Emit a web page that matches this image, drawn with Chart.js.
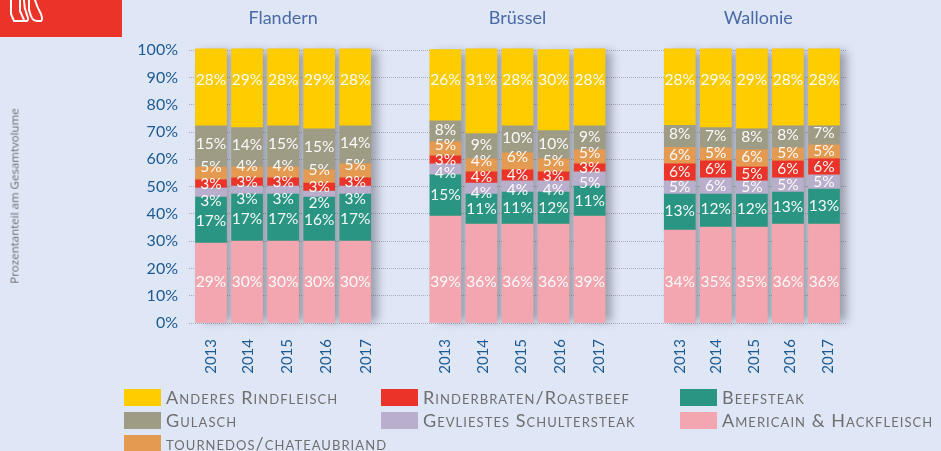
<!DOCTYPE html>
<html>
<head>
<meta charset="utf-8">
<script src="https://cdn.jsdelivr.net/npm/chart.js@4"></script>
<style>
    html, body { margin: 0; padding: 0; width: 941px; height: 451px; overflow: hidden; background: #dfe6f6; }
    #chart { position: absolute; left: 0; top: 0; }
    #logo { position: absolute; left: 0; top: 0; }
    #ytitle { position: absolute; left: 14px; top: 196px; transform: translate(-50%, -50%) rotate(-90deg);
        font: 11.5px "Open Sans"; color: #6b6b6b; white-space: nowrap; }
    .swatch { position: absolute; width: 37px; height: 17px; }
    .legend { position: absolute; font: 18px "Lato"; font-variant: small-caps;
        color: #6f6f6f; white-space: nowrap; letter-spacing: 1.05px; line-height: 17px; }
</style>
</head>
<body>
<canvas id="chart" width="941" height="451"></canvas>
<svg id="logo" width="122" height="37">
    <rect width="122" height="37" fill="#ec3329"/>
    <path d="M11 0V14L14 21H27Q29 20 27 15Q24 8 24 0M20 0V11L24 20M29 0V10L31 16Q33 21 37 21H41Q43 20 41 14Q37 7 35 0"
        fill="none" stroke="#fff" stroke-width="2"/>
</svg>
<div id="ytitle">Prozentanteil am Gesamtvolume</div>
<script>
const regions = ["Flandern", "Brüssel", "Wallonie"];
const years = ["2013", "2014", "2015", "2016", "2017"];

// segment heights, Flandern / Brüssel / Wallonie
const americain = [29.3, 30, 30, 30, 30, 39.2, 36.3, 36.3, 36.3, 39.2, 34.1, 35.2, 35.2, 36.3, 36.3];
const beefsteak = [16.9, 17.3, 17.3, 16.2, 17.3, 15.1, 11, 11.7, 11.7, 11, 13.2, 12.1, 12.1, 11.7, 12.8];
const schulter = [3.3, 2.9, 2.9, 2.2, 2.9, 4, 4, 4.1, 4.1, 5.2, 4.8, 5.9, 4.8, 5.2, 5.2];
const roastbeef = [3, 3, 3, 2.9, 3, 3, 4.1, 4, 3.3, 2.9, 6.2, 6.2, 5.1, 6.2, 5.9];
const tournedos = [4.7, 4, 4, 4.8, 5.1, 5.1, 4.8, 6.3, 4.8, 5.2, 6.1, 4.8, 6.3, 4.8, 5.1];
const gulasch = [15.1, 14.4, 15.1, 15.1, 14, 7.7, 9.2, 9.9, 10.3, 8.8, 8.1, 7.4, 7.7, 8.1, 7];
const anderes = [28.2, 28.9, 28.2, 29.3, 28.2, 26.1, 31.1, 28.2, 29.7, 28.2, 28, 28.9, 29.3, 28.2, 28.2];

// printed percentages
const americainText = [29, 30, 30, 30, 30, 39, 36, 36, 36, 39, 34, 35, 35, 36, 36];
const beefsteakText = [17, 17, 17, 16, 17, 15, 11, 11, 12, 11, 13, 12, 12, 13, 13];
const schulterText = [3, 3, 3, 2, 3, 4, 4, 4, 4, 5, 5, 6, 5, 5, 5];
const roastbeefText = [3, 3, 3, 3, 3, 3, 4, 4, 3, 3, 6, 6, 5, 6, 6];
const tournedosText = [5, 4, 4, 5, 5, 5, 4, 6, 5, 5, 6, 5, 6, 5, 5];
const gulaschText = [15, 14, 15, 15, 14, 8, 9, 10, 10, 9, 8, 7, 8, 8, 7];
const anderesText = [28, 29, 28, 29, 28, 26, 31, 28, 30, 28, 28, 29, 29, 28, 28];

const series = [
    { label: "Americain & Hackfleisch", values: americain, text: americainText, color: "#f4a6b0", labelAt: 15 },
    { label: "Beefsteak", values: beefsteak, text: beefsteakText, color: "#2a9582", shift: [1, 0, -1] },
    { label: "Gevliestes Schultersteak", values: schulter, text: schulterText, color: "#b9aecb", shift: [9, 4, 0] },
    { label: "Rinderbraten/Roastbeef", values: roastbeef, text: roastbeefText, color: "#eb3329", shift: [0, 0, 0] },
    { label: "tournedos/chateaubriand", values: tournedos, text: tournedosText, color: "#e59a51", shift: [-6, -4, -1] },
    { label: "Gulasch", values: gulasch, text: gulaschText, color: "#9f9c86", shift: [-2, -1, -2] },
    { label: "Anderes Rindfleisch", values: anderes, text: anderesText, color: "#ffcc00", labelAt: 89 },
];

// bars sit on slots of a linear x axis, two slots per year, 13 per region
const slotOf = (i) => Math.floor(i / 5) * 13 + (i % 5) * 2;
// the year labels drift a little to the right of their bars in the original
const yearDrift = [0, 0.05, 0.25, 0.4, 0.6, 0, 0.1, 0.2, 0.35, 0.55, 0, 0, 0.1, 0.1, 0.25];
const regionCentres = [4, 17, 30.35];
const yearTicks = yearDrift.map((d, i) => slotOf(i) + d);

const barLabels = {
    id: "barLabels",
    afterDatasetsDraw(chart) {
        const ctx = chart.ctx;
        ctx.save();
        ctx.font = '15.5px "Lato"';
        ctx.fillStyle = "rgba(255,255,255,0.95)";
        ctx.textAlign = "center";
        ctx.textBaseline = "middle";
        series.forEach((s, d) => {
            chart.getDatasetMeta(d).data.forEach((bar, i) => {
                const y = s.labelAt !== undefined
                    ? chart.scales.y.getPixelForValue(s.labelAt)
                    : (bar.y + bar.base) / 2 + s.shift[Math.floor(i / 5)];
                ctx.fillText(s.text[i] + "%", bar.x, y);
            });
        });
        ctx.restore();
    },
};

const barShadow = {
    id: "barShadow",
    beforeDatasetsDraw(chart) {
        const ctx = chart.ctx;
        const top = chart.getDatasetMeta(series.length - 1).data;
        const bottom = chart.getDatasetMeta(0).data;
        ctx.save();
        ctx.shadowColor = "rgba(60,60,70,0.42)";
        ctx.shadowBlur = 9;
        ctx.shadowOffsetX = 7;
        ctx.shadowOffsetY = 2;
        ctx.fillStyle = "#aaa";
        top.forEach((bar, i) => {
            ctx.fillRect(bar.x - bar.width / 2, bar.y, bar.width, bottom[i].base - bar.y - 3);
        });
        ctx.restore();
    },
};

const regionTitles = {
    id: "regionTitles",
    afterDraw(chart) {
        const ctx = chart.ctx;
        ctx.save();
        ctx.font = '18px "Lato"';
        ctx.fillStyle = "#4a6aa6";
        ctx.textAlign = "center";
        ctx.textBaseline = "middle";
        regions.forEach((r, i) => {
            ctx.fillText(r, chart.scales.x.getPixelForValue(regionCentres[i]), 18);
        });
        ctx.restore();
    },
};

const ctx = document.getElementById("chart").getContext("2d");
const myChart = new Chart(ctx, {
    type: "bar",
    data: {
        datasets: series.map((s) => ({
            label: s.label,
            data: s.values.map((v, i) => ({ x: slotOf(i), y: v })),
            backgroundColor: s.color,
            borderWidth: 0,
            barThickness: 31,
        })),
    },
    options: {
        responsive: false,
        animation: false,
        layout: { padding: { top: 42, right: 95, left: 0, bottom: 0 } },
        plugins: { legend: { display: false }, tooltip: { enabled: false } },
        scales: {
            x: {
                type: "linear",
                stacked: true,
                offset: false,
                min: -1.22,
                max: 35.22,
                grid: { display: false, offset: false },
                border: { display: false },
                afterBuildTicks: (scale) => {
                    scale.ticks = yearTicks.map((value) => ({ value }));
                },
                afterFit: (scale) => {
                    scale.height = 128;
                },
                ticks: {
                    autoSkip: false,
                    minRotation: 90,
                    maxRotation: 90,
                    padding: 8,
                    color: "#1c5a96",
                    font: { family: "Lato", size: 15 },
                    callback: (value, i) => years[i % 5],
                },
            },
            y: {
                stacked: true,
                min: 0,
                max: 103,
                grid: { color: "#a9acb3", drawTicks: false, lineWidth: 1 },
                border: { display: false, dash: [1, 1] },
                afterFit: (scale) => {
                    scale.width = 189;
                },
                ticks: {
                    stepSize: 10,
                    includeBounds: false,
                    padding: 11,
                    color: "#1c5a96",
                    font: { family: "Lato", size: 16 },
                    callback: (value) => value + "%",
                },
            },
        },
    },
    plugins: [barShadow, barLabels, regionTitles],
});

// legend, three columns in the order of the original
const legendOrder = [
    ["Anderes Rindfleisch", 124, 389], ["Rinderbraten/Roastbeef", 381, 389], ["Beefsteak", 680, 389],
    ["Gulasch", 124, 412], ["Gevliestes Schultersteak", 381, 412], ["Americain & Hackfleisch", 680, 412],
    ["tournedos/chateaubriand", 124, 435],
];
legendOrder.forEach(([name, left, top]) => {
    const swatch = document.createElement("div");
    swatch.className = "swatch";
    swatch.style.left = left + "px";
    swatch.style.top = top + "px";
    swatch.style.background = series.find((s) => s.label === name).color;
    document.body.appendChild(swatch);
    const text = document.createElement("div");
    text.className = "legend";
    text.style.left = left + 42 + "px";
    text.style.top = top + "px";
    text.textContent = name;
    document.body.appendChild(text);
});
</script>
</body>
</html>
